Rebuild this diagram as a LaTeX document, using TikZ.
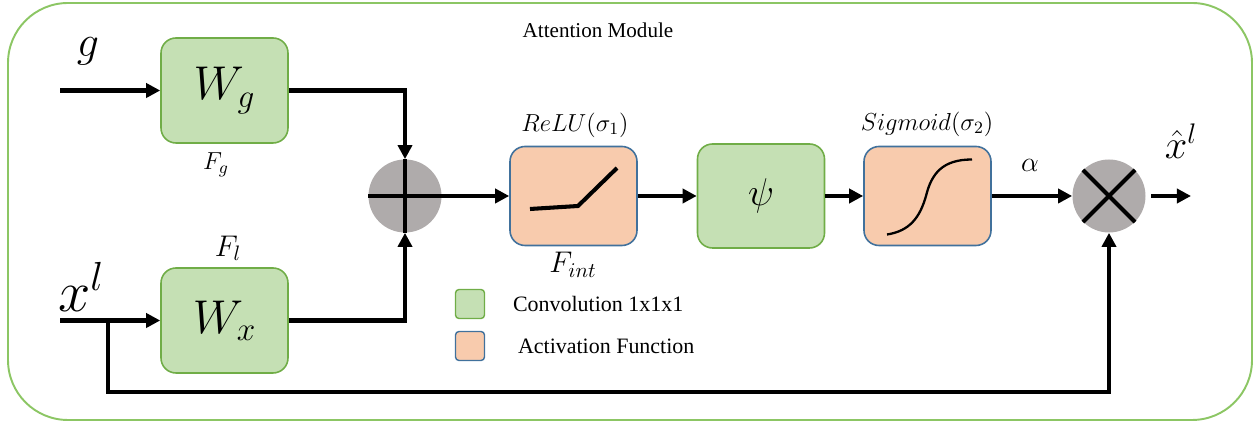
\documentclass[tikz,border=0pt]{standalone}
\usepackage{fix-cm}
\usepackage{fontspec}
\setmainfont{Liberation Serif}
\usepackage{amsmath}
\usetikzlibrary{arrows.meta, positioning}

\definecolor{convfill}{RGB}{197,224,180}
\definecolor{convdraw}{RGB}{112,173,71}
\definecolor{actfill}{RGB}{248,203,173}
\definecolor{actdraw}{RGB}{65,113,156}
\definecolor{opfill}{RGB}{175,171,171}
\definecolor{framedraw}{RGB}{140,198,100}

\newcommand{\fs}[1]{\fontsize{#1}{#1}\selectfont}

\begin{document}
\begin{tikzpicture}[
    every node/.style={inner sep=0pt},
    conv/.style={
        draw=convdraw, fill=convfill, line width=0.9pt,
        rounded corners=0.3cm, minimum width=2.54cm, minimum height=2.1cm
    },
    act/.style={
        draw=actdraw, fill=actfill, line width=0.9pt,
        rounded corners=0.3cm, minimum width=2.54cm, minimum height=1.98cm
    },
    op/.style={circle, fill=opfill, minimum size=1.46cm},
    key/.style={rounded corners=2pt, line width=0.8pt, minimum size=0.58cm},
    flow/.style={-{Triangle[length=8pt, width=8pt]}, line width=2.3pt},
    wire/.style={line width=2.3pt},
    curve/.style={line width=1.3pt},
]
\useasboundingbox (0,0) rectangle (25.16,8.52);

% ── frame ──
\draw[framedraw, line width=1.1pt, rounded corners=1.2cm] (0.16,0.12) rectangle (25.04,8.46);
\node (title) at (11.96,7.92) {\fs{12}Attention Module};

% ── inputs ──
\coordinate (gin) at (1.2,6.71);
\coordinate (xin) at (1.2,2.11);
\node (g) at (1.76,7.5) {\fs{25}$g$};
\node (xl) at (1.62,2.78) {\fs{33}$x^l$};

% ── convolutions ──
\node[conv] (wg) at (4.49,6.71) {\fs{27}$W_g$};
\node[conv] (wx) at (4.49,2.11) {\fs{27}$W_x$};
\node (fg) at (4.32,5.22) {\fs{14}$F_g$};
\node (fl) at (4.56,3.55) {\fs{17}$F_l$};

% ── add ──
\node[op] (plus) at (8.10,4.6) {};
\draw[wire] (plus.west) -- (plus.east);
\draw[wire] (plus.north) -- (plus.south);

% ── ReLU ──
\node[act] (relu) at (11.47,4.6) {};
\node (relulbl) at (11.5,6.02) {\fs{14}$ReLU(\sigma_1)$};
\node (fint) at (11.46,3.22) {\fs{17}$F_{int}$};
\begin{scope}[shift={(relu.center)}]
\draw[wire] (-0.87,-0.26) -- (0.09,-0.2) -- (0.87,0.56);
\end{scope}

% ── psi ──
\node[conv, minimum height=2.08cm] (psi) at (15.22,4.6) {\fs{22}$\psi$};

% ── Sigmoid ──
\node[act] (sig) at (18.55,4.6) {};
\node (siglbl) at (18.54,6.04) {\fs{14}$Sigmoid(\sigma_2)$};
\begin{scope}[shift={(sig.center)}]
\draw[curve] (-0.81,-0.77) .. controls (-0.35,-0.7) and (-0.15,-0.42) .. (-0.03,0)
    .. controls (0.08,0.45) and (0.3,0.73) .. (0.89,0.73);
\end{scope}

% ── multiply ──
\node[op] (times) at (22.18,4.6) {};
\draw[wire] (times.45) -- (times.225);
\draw[wire] (times.135) -- (times.315);
\node (alpha) at (20.6,5.22) {\fs{16}$\alpha$};
\coordinate (out) at (23.82,4.6);
\node (xhat) at (23.62,5.7) {\fs{23}$\hat{x}^l$};

% ── legend ──
\node[key, draw=convdraw, fill=convfill] (convkey) at (9.4,2.44) {};
\node[right=0.55cm of convkey] (convtxt) {\fs{12.5}Convolution 1x1x1};
\node[key, draw=actdraw, fill=actfill] (actkey) at (9.4,1.6) {};
\node[right=0.65cm of actkey] (acttxt) {\fs{12.5}Activation Function};

% ── connections ──
\draw[flow] (gin) -- (wg.west);
\draw[flow] (xin) -- (wx.west);
\draw[flow] (wg.east) -| (plus.north);
\draw[flow] (wx.east) -| (plus.south);
\draw[flow] (plus.east) -- (relu.west);
\draw[flow] (relu.east) -- (psi.west);
\draw[flow] (psi.east) -- (sig.west);
\draw[flow] (sig.east) -- (times.west);
\draw[flow] ([xshift=3pt]times.east) -- (out);
\coordinate (split) at (2.16,2.11);
\coordinate (skip) at (2.16,0.68);
\draw[flow] (split) -- (skip) -| (times.south);

\end{tikzpicture}
\end{document}
